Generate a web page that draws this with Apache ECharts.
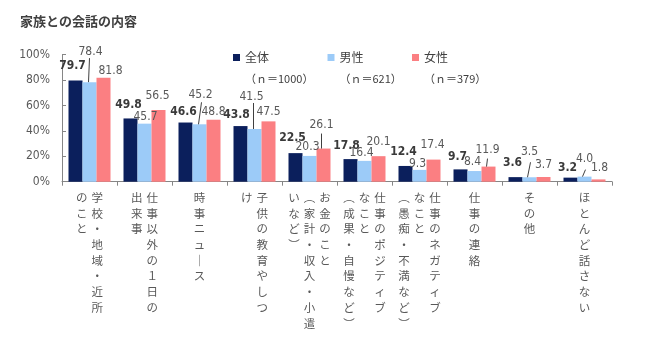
<!DOCTYPE html>
<html>
<head>
<meta charset="utf-8">
<script src="https://cdn.jsdelivr.net/npm/echarts@6/dist/echarts.min.js"></script>
<style>
  html, body { margin: 0; padding: 0; background: #ffffff; }
  #chart { width: 650px; height: 349px; }
</style>
</head>
<body>
<div id="chart"></div>
<script>
// Category names; "\n" marks where a vertical column breaks
const categories = [
  '学校・地域・近所\nのこと',
  '仕事以外の１日の\n出来事',
  '時事ニュース',
  '子供の教育やしつ\nけ',
  'お金のこと\n（家計・収入・小遣\nいなど）',
  '仕事のポジティブ\nなこと\n（成果・自慢など）',
  '仕事のネガティブ\nなこと\n（愚痴・不満など）',
  '仕事の連絡',
  'その他',
  'ほとんど話さない'
];
const seriesNames = ['全体', '男性', '女性'];
const sampleSizes = ['（ｎ＝1000）', '（ｎ＝621）', '（ｎ＝379）'];
const valuesAll = [79.7, 49.8, 46.6, 43.8, 22.5, 17.8, 12.4, 9.7, 3.6, 3.2];
const valuesMale = [78.4, 45.7, 45.2, 41.5, 20.3, 16.4, 9.3, 8.4, 3.5, 4.0];
const valuesFemale = [81.8, 56.5, 48.8, 47.5, 26.1, 20.1, 17.4, 11.9, 3.7, 1.8];
const yTicks = [0, 20, 40, 60, 80, 100];

const seriesValues = [valuesAll, valuesMale, valuesFemale];
const colors = ['#0b1f5c', '#9ccbf8', '#fb7f82'];
const BAR_W = 14;
const NUM_FONT = "'DejaVu Sans Condensed', 'Liberation Sans', sans-serif";
const JP_FONT = "'Noto Sans CJK JP', sans-serif";

// Legend entry positions (left edge of each key square)
const legendLefts = [233, 327.5, 412];

// Value label placement: offset of the label centre from the bar's top centre
const labelOffsets = [
  [[-3,-15],[-2,-14],[-2,-11],[-4,-11],[-3,-15],[-4,-13],[-2,-14],[-3,-13],[-3,-14],[-3,-10]],
  [[1,-30],[1,-7],[1,-29],[-3,-32],[-2,-9],[-3,-8],[-2,-6],[-2,-9],[0,-25],[0,-18]],
  [[7,-7],[-1,-14],[0,-8],[0,-10],[-2,-24],[0,-14],[-1,-15],[-1,-17],[0,-12],[1,-12]]
];

// Leader lines from a moved label down to its bar
const leaderLines = [
  { s: 1, i: 0, tx: -1, ty: 6, bx: -1 },
  { s: 1, i: 2, tx: 1, ty: 7, bx: -1 },
  { s: 1, i: 3, tx: 2, ty: 6, bx: -1 },
  { s: 2, i: 4, tx: 0, ty: 9, bx: -2 },
  { s: 2, i: 7, tx: 0, ty: 9, bx: -2 },
  { s: 1, i: 8, tx: 1, ty: 10, bx: -2 },
  { s: 1, i: 9, tx: 1, ty: 11, bx: -2 }
];

// Vertical writing: columns run right to left, characters top to bottom
const VERTICAL_FORMS = { '（': '︵', '）': '︶', 'ー': '｜' };
function verticalLabel(text) {
  const cols = text.split('\n').map(c => Array.from(c).map(ch => VERTICAL_FORMS[ch] || ch));
  const rows = Math.max(...cols.map(c => c.length));
  const lines = [];
  for (let r = 0; r < rows; r++) {
    let line = '';
    for (let k = cols.length - 1; k >= 0; k--) {
      line += '{c|' + (cols[k][r] || '　') + '}';
    }
    lines.push(line);
  }
  return lines.join('\n');
}

function barSeries(idx) {
  const bold = idx === 0;
  return {
    name: seriesNames[idx],
    type: 'bar',
    barWidth: BAR_W,
    barGap: '0%',
    itemStyle: { color: colors[idx] },
    data: seriesValues[idx].map((v, i) => ({ value: v, label: { offset: labelOffsets[idx][i] } })),
    label: {
      show: true,
      position: 'top',
      distance: 0,
      align: 'center',
      verticalAlign: 'middle',
      fontFamily: NUM_FONT,
      fontSize: 12,
      fontWeight: bold ? 'bold' : 'normal',
      color: bold ? '#3a3a3a' : '#595959',
      formatter: p => p.value.toFixed(1)
    }
  };
}

const leaderSeries = {
  type: 'custom',
  silent: true,
  z: 5,
  data: leaderLines.map(l => [l.i, seriesValues[l.s][l.i]]),
  encode: { x: 0, y: 1 },
  renderItem(params, api) {
    const l = leaderLines[params.dataIndex];
    const top = api.coord([api.value(0), api.value(1)]);
    const cx = top[0] + (l.s - 1) * BAR_W;
    const off = labelOffsets[l.s][l.i];
    return {
      type: 'line',
      shape: { x1: cx + off[0] + l.tx, y1: top[1] + off[1] + l.ty, x2: cx + l.bx, y2: top[1] },
      style: { stroke: '#404040', lineWidth: 1 }
    };
  }
};

// One legend block per series: name on the key's line, sample size beneath
const legends = seriesNames.map((name, k) => ({
  data: [name],
  left: legendLefts[k],
  top: 26,
  padding: 0,
  itemWidth: 7,
  itemHeight: 7,
  icon: 'rect',
  formatter: n => '{e|\u00a0}\n{n|' + n + '}\n{s|' + sampleSizes[seriesNames.indexOf(n)] + '}',
  textStyle: {
    fontFamily: JP_FONT,
    fontSize: 12,
    color: '#404040',
    lineHeight: 21,
    rich: {
      e: { fontSize: 12, lineHeight: 21 },
      n: { fontFamily: JP_FONT, fontSize: 12, lineHeight: 21, color: '#404040' },
      s: { fontFamily: JP_FONT, fontSize: 11, lineHeight: 21, color: '#404040' }
    }
  }
}));

const chart = echarts.init(document.getElementById('chart'), null, { renderer: 'canvas' });
chart.setOption({
  backgroundColor: '#ffffff',
  animation: false,
  title: {
    text: '家族との会話の内容',
    left: 20,
    top: 15,
    padding: 0,
    textStyle: { fontFamily: JP_FONT, fontSize: 13, fontWeight: 'bold', color: '#404040' }
  },
  legend: legends,
  grid: { left: 62, right: 38, top: 54.7, bottom: 167.3, containLabel: false },
  xAxis: {
    type: 'category',
    data: categories,
    axisLine: { lineStyle: { color: '#868686' } },
    axisTick: { show: true, inside: false, length: 4, alignWithLabel: false, lineStyle: { color: '#868686' } },
    axisLabel: {
      interval: 0,
      margin: 8,
      align: 'center',
      verticalAlign: 'top',
      formatter: verticalLabel,
      rich: {
        c: {
          width: 15.5,
          align: 'center',
          lineHeight: 15.7,
          fontSize: 11.5,
          fontFamily: JP_FONT,
          color: '#595959'
        }
      }
    },
    splitLine: { show: false }
  },
  yAxis: {
    type: 'value',
    min: yTicks[0],
    max: yTicks[yTicks.length - 1],
    interval: yTicks[1] - yTicks[0],
    axisLine: { show: true, lineStyle: { color: '#868686' } },
    axisTick: { show: true, inside: true, length: 4, lineStyle: { color: '#868686' } },
    axisLabel: { formatter: '{value}%', margin: 12, fontFamily: NUM_FONT, fontSize: 12, color: '#595959' },
    splitLine: { show: false }
  },
  series: [barSeries(0), barSeries(1), barSeries(2), leaderSeries]
});
</script>
</body>
</html>
